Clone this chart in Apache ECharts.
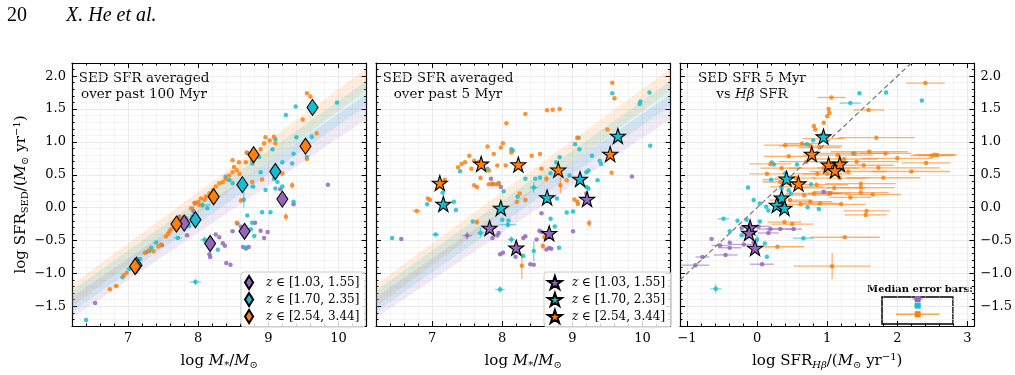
<!DOCTYPE html>
<html>
<head>
<meta charset="utf-8">
<script src="https://cdn.jsdelivr.net/npm/echarts@6/dist/echarts.min.js"></script>
<style>html,body{margin:0;padding:0;background:#fff}#main{width:1015px;height:375px}</style>
</head>
<body>
<div id="main"></div>
<script>
// ---- values ----
var binLabels = ['[1.03, 1.55]', '[1.70, 2.35]', '[2.54, 3.44]'];
var binColors = ['#9467bd', '#17becf', '#ff7f0e'];

// main-sequence bands: value at logM = bandX[0] and bandX[1]
var bandX = [6.2, 10.4];
var bandPurpleLo = [-1.68, 1.35], bandPurpleHi = [-1.36, 1.72];
var bandCyanLo = [-1.58, 1.55], bandCyanHi = [-1.26, 1.93];
var bandOrangeLo = [-1.50, 1.78], bandOrangeHi = [-1.17, 2.12];

// median points per bin
var p1MedPurple = [[7.80,-0.235],[8.17,-0.545],[8.66,-0.36],[9.20,0.13]];
var p1MedCyan = [[7.12,-0.875],[7.96,-0.185],[8.63,0.35],[9.10,0.55],[9.63,1.525]];
var p1MedOrange = [[7.10,-0.895],[7.69,-0.25],[8.22,0.165],[8.79,0.805],[9.53,0.935]];
var p2MedPurple = [[7.82,-0.31],[8.20,-0.61],[8.67,-0.39],[9.21,0.13]];
var p2MedCyan = [[7.16,0.055],[7.98,-0.005],[8.64,0.155],[9.11,0.435],[9.65,1.09]];
var p2MedOrange = [[7.11,0.375],[7.70,0.665],[8.23,0.655],[8.80,0.575],[9.54,0.815]];
var p3MedPurple = [[-0.10,-0.30],[-0.115,-0.385],[-0.03,-0.615]];
var p3MedCyan = [[0.947,1.08],[0.42,0.44],[0.35,0.15],[0.28,0.04],[0.39,-0.005]];
var p3MedOrange = [[0.78,0.815],[1.02,0.65],[1.18,0.665],[1.11,0.565],[0.59,0.365]];

// individual galaxies: [x, y, xerr, yerr]
var p1Purple = [[6.53,-1.45,0,0],[7.48,-0.57,0,0],[7.73,-0.14,0,0],[7.84,-0.42,0,0],[7.93,-0.05,0,0.07],[7.95,0.07,0,0],[8.16,-0.71,0,0],[8.17,-0.75,0,0],[8.25,-0.41,0,0],[8.30,-0.45,0,0],[8.35,-0.54,0,0],[8.38,-0.58,0,0],[8.40,-0.84,0,0],[8.46,-0.87,0,0],[8.49,-0.36,0,0],[8.56,-0.24,0,0],[8.61,-0.29,0,0],[8.64,-0.60,0,0],[8.68,-0.62,0,0],[8.72,-0.60,0,0],[8.81,-0.23,0,0],[8.89,-0.35,0,0],[8.94,-0.46,0,0],[8.99,-0.37,0,0],[9.17,0.28,0,0],[9.36,0.05,0,0],[9.85,0.35,0,0]];
var p1Cyan = [[6.40,-1.71,0,0],[6.92,-1.06,0,0],[7.02,-0.93,0.05,0],[7.17,-0.78,0,0],[7.26,-0.68,0,0],[7.30,-0.66,0,0],[7.33,-0.61,0,0],[7.40,-0.53,0,0],[7.71,-0.46,0.06,0.03],[7.83,-0.16,0,0],[7.87,-0.28,0,0],[7.92,-0.13,0,0],[7.96,-1.13,0.08,0.05],[8.06,0.04,0.12,0.05],[8.09,-0.49,0.06,0.05],[8.13,-0.01,0,0],[8.28,-0.64,0,0],[8.39,0.47,0,0],[8.44,0.42,0.05,0],[8.49,0.37,0,0],[8.65,0.12,0,0.12],[8.68,-0.61,0,0],[8.70,-0.12,0,0],[8.70,0.83,0,0],[8.75,-0.33,0,0],[8.77,-0.23,0,0],[8.77,0.67,0,0],[8.78,0.32,0.04,0],[8.80,-0.43,0,0],[8.87,0.77,0,0],[8.89,0.54,0,0],[8.91,-0.07,0,0],[8.96,0.27,0,0],[9.03,-0.07,0,0],[9.06,0.89,0,0],[9.08,0.44,0,0],[9.10,0.29,0,0],[9.10,1.04,0,0],[9.13,0.39,0,0],[9.20,0.69,0,0],[9.20,0.32,0,0],[9.25,1.41,0,0],[9.34,0.67,0,0],[9.36,0.82,0,0],[9.36,0.09,0,0],[9.39,1.54,0,0],[9.40,1.07,0,0],[9.55,0.77,0,0],[9.62,1.08,0,0],[9.98,1.60,0,0]];
var p1Orange = [[6.74,-1.24,0,0],[6.83,-1.19,0.04,0.03],[6.94,-1.03,0,0],[6.98,-0.99,0,0],[7.24,-0.69,0,0],[7.30,-0.65,0,0],[7.36,-0.66,0,0],[7.43,-0.59,0,0],[7.47,-0.56,0,0],[7.54,-0.44,0,0],[7.57,-0.40,0,0],[7.59,-0.36,0,0],[7.61,-0.33,0,0],[7.66,-0.29,0,0],[7.73,-0.19,0,0],[7.76,-0.16,0,0],[7.80,-0.14,0,0],[7.90,-0.01,0,0],[7.95,0.07,0,0],[8.00,0.09,0,0],[8.02,0.04,0,0],[8.04,0.14,0,0],[8.09,0.12,0,0],[8.11,0.17,0,0],[8.16,0.22,0,0],[8.21,0.27,0,0],[8.25,0.32,0,0],[8.30,0.37,0,0],[8.35,0.39,0,0],[8.39,0.44,0,0],[8.44,0.49,0,0],[8.49,0.72,0,0],[8.49,0.54,0,0],[8.51,0.62,0,0],[8.55,0.57,0,0],[8.55,-0.23,0,0],[8.58,0.69,0,0],[8.59,0.51,0,0],[8.61,0.11,0,0],[8.68,0.69,0,0],[8.69,0.84,0,0],[8.77,0.72,0,0],[8.77,0.39,0,0],[8.89,0.89,0,0],[8.91,0.43,0,0],[8.94,0.98,0,0],[8.96,1.07,0,0],[9.02,1.02,0,0],[9.08,1.08,0,0],[9.10,0.98,0,0],[9.20,0.52,0,0],[9.25,-0.14,0,0.06],[9.34,0.34,0,0.05],[9.49,1.34,0,0],[9.55,1.74,0,0],[9.60,1.69,0,0],[9.55,0.74,0,0],[9.69,1.13,0,0]];

var p2Purple = [[6.56,-0.475,0,0],[7.50,-0.425,0.07,0.06],[7.84,0.44,0,0],[7.86,0.365,0,0],[7.86,-0.46,0,0],[7.93,-0.425,0,0],[7.95,-0.385,0,0],[7.97,-0.71,0,0],[7.98,0.315,0,0],[8.01,-0.685,0,0],[8.19,-0.745,0,0],[8.30,-0.46,0,0],[8.33,-0.435,0,0],[8.40,-0.86,0,0],[8.45,-0.87,0,0],[8.49,-0.485,0,0],[8.53,-0.35,0,0],[8.56,-0.37,0,0],[8.56,-0.085,0,0],[8.63,-0.635,0,0],[8.67,-0.615,0,0],[8.70,-0.625,0,0],[9.01,-0.36,0,0],[9.20,0.215,0,0],[9.23,0.09,0,0],[9.85,0.475,0,0]];
var p2Cyan = [[6.43,-0.46,0,0],[6.93,0.05,0,0],[7.05,-0.41,0.05,0],[7.15,0.225,0,0],[7.31,0.09,0,0],[7.34,-0.035,0,0],[7.40,0.555,0,0],[7.58,-0.21,0,0],[7.69,-0.385,0.05,0.07],[7.79,0.59,0,0],[7.95,0.375,0,0],[7.97,-1.245,0.07,0.05],[8.00,-0.185,0,0],[8.02,0.25,0,0],[8.08,-0.26,0.12,0.04],[8.09,-0.195,0,0],[8.13,-0.485,0.05,0.05],[8.13,0.89,0,0],[8.15,0.87,0,0],[8.22,0.165,0,0],[8.30,-0.735,0,0],[8.33,0.44,0,0],[8.45,0.305,0.06,0.08],[8.45,-0.66,0,0.15],[8.47,0.44,0,0],[8.54,0.455,0,0],[8.69,0.525,0,0],[8.69,-0.17,0,0],[8.75,-0.285,0,0],[8.77,0.69,0,0],[8.78,0.14,0,0],[8.81,-0.61,0,0],[8.82,0.765,0,0],[8.92,-0.075,0,0],[8.96,0.49,0,0],[9.01,-0.06,0,0],[9.04,0.965,0,0],[9.09,1.065,0,0],[9.10,0.89,0,0],[9.20,0.315,0,0],[9.20,0.54,0,0],[9.23,0.29,0,0],[9.23,0.565,0,0],[9.28,0.79,0,0],[9.36,0.415,0,0],[9.39,0.715,0,0],[9.41,0.665,0,0],[9.57,1.74,0,0],[9.96,1.575,0,0],[9.97,1.615,0,0],[10.10,1.75,0,0],[10.11,0.94,0,0]];
var p2Orange = [[6.78,-0.05,0.06,0],[6.94,0.14,0,0],[6.97,0.115,0,0],[7.18,0.425,0,0],[7.37,0.615,0,0],[7.42,0.665,0,0],[7.47,0.69,0,0],[7.53,0.79,0,0],[7.56,0.59,0,0],[7.60,0.715,0,0],[7.60,0.34,0,0],[7.64,0.315,0,0],[7.64,-0.22,0,0.04],[7.66,0.69,0,0],[7.69,0.45,0,0],[7.79,0.93,0,0],[7.81,0.565,0,0],[7.81,0.355,0.03,0],[7.86,0.355,0.03,0],[7.88,0.815,0,0],[7.91,0.355,0.03,0],[7.93,0.64,0,0],[7.95,0.355,0.03,0],[7.98,0.915,0,0],[8.01,0.98,0,0],[8.05,0.64,0,0],[8.06,1.285,0,0],[8.13,0.84,0,0],[8.21,0.09,0,0],[8.25,0.215,0,0],[8.28,-0.885,0,0.2],[8.33,0.115,0,0],[8.33,1.425,0,0],[8.42,0.79,0,0],[8.54,0.815,0,0],[8.56,0.59,0,0],[8.58,-0.585,0,0.05],[8.60,-0.445,0,0.05],[8.63,0.44,0,0.05],[8.64,1.48,0,0],[8.72,1.49,0,0],[8.82,1.50,0,0],[8.83,0.34,0,0.12],[8.92,0.415,0,0],[9.03,0.125,0,0],[9.07,0.09,0,0],[9.07,1.065,0,0],[9.08,0.055,0,0],[9.24,-0.235,0,0.06],[9.50,1.19,0,0],[9.56,0.53,0,0],[9.57,1.90,0,0],[9.60,1.665,0,0]];

var p3Purple = [[-0.88,-0.875,0.2,0],[-0.78,-0.75,0.1,0],[-0.65,-0.475,0,0],[-0.53,-0.575,0.12,0],[-0.45,-0.72,0.17,0],[-0.39,-0.61,0.17,0],[-0.39,-0.535,0,0],[-0.22,-0.31,0,0],[-0.19,-0.56,0.19,0],[-0.05,-0.525,0,0],[0.02,-0.285,0.17,0],[0.07,-0.86,0.17,0],[0.16,-0.385,0.15,0],[0.19,-0.325,0.2,0],[0.33,-0.325,0.2,0],[0.52,-0.325,0.12,0],[0.95,0.24,0.14,0],[1.04,0.215,0.12,0]];
var p3Cyan = [[-0.59,-1.235,0.08,0.07],[-0.48,-0.17,0.08,0],[-0.39,-0.36,0,0],[-0.28,-0.2,0,0],[-0.22,-0.42,0,0],[-0.15,-0.185,0,0],[-0.14,-0.445,0,0],[-0.13,0.305,0,0],[-0.05,0.115,0,0],[0.0,-0.485,0,0.07],[0.04,0.065,0,0],[0.04,-0.21,0,0],[0.11,-0.545,0,0],[0.13,0.015,0,0],[0.14,-0.745,0,0],[0.16,-0.045,0,0],[0.20,0.425,0.12,0],[0.21,0.685,0,0],[0.24,0.655,0,0],[0.35,0.29,0,0],[0.40,0.525,0,0],[0.45,0.265,0,0],[0.48,0.215,0,0],[0.57,0.655,0,0],[0.66,-0.465,0.15,0],[0.71,0.965,0.05,0],[0.72,0.005,0,0],[0.77,0.355,0,0],[0.80,1.025,0,0],[0.81,0.765,0,0],[0.88,-0.02,0,0],[0.92,1.105,0,0],[1.33,1.59,0.15,0],[1.37,0.825,0,0],[1.46,1.74,0,0],[1.84,1.75,0,0],[2.35,1.63,0,0]];
var p3Orange = [[0.14,0.515,0.25,0],[0.19,0.665,0.3,0],[0.29,-0.595,0.38,0],[0.33,0.39,0.25,0],[0.35,0.60,0.3,0],[0.39,-0.22,0.24,0],[0.40,0.95,0.3,0],[0.45,0.78,0.35,0],[0.47,0.115,0.3,0],[0.50,-0.25,0.3,0],[0.55,0.45,0.3,0],[0.57,0.315,0.38,0],[0.62,0.05,0.3,0],[0.64,0.975,0.25,0],[0.67,0.19,0.36,0],[0.70,0.70,0.4,0],[0.76,0.94,0.45,0],[0.76,0.09,0.31,0],[0.81,1.24,0,0],[0.81,0.215,0.4,0],[0.83,1.19,0,0],[0.85,0.35,0.45,0],[0.86,0.515,0.35,0],[0.89,0.915,0.3,0],[0.90,0.065,0.3,0],[0.95,1.29,0,0],[0.95,0.60,0.5,0],[0.95,1.05,0.3,0],[1.0,1.39,0,0],[1.0,0.515,0.35,0],[1.02,1.50,0,0],[1.03,1.44,0,0],[1.03,0.215,0.3,0],[1.06,1.675,0.2,0],[1.07,-0.89,0.55,0.2],[1.10,0.30,0.45,0],[1.15,0.80,0.5,0],[1.18,0.45,0.4,0],[1.20,0.05,0.35,0],[1.24,0.74,0.48,0],[1.25,-0.45,0.5,0],[1.30,0.55,0.55,0],[1.33,0.155,0.3,0],[1.39,0.825,0.5,0],[1.42,0.70,0.6,0],[1.48,0.365,0.5,0],[1.48,0.305,0.48,0],[1.48,0.23,0.4,0],[1.52,0.645,0.43,0],[1.55,-0.11,0.3,0],[1.56,-0.05,0.33,0],[1.59,1.485,0.22,0],[1.60,0.85,0.55,0],[1.65,0.20,0.4,0],[1.70,1.065,0.55,0],[1.73,0.605,0.87,0],[1.80,0.455,0.53,0],[1.83,0.825,0.37,0],[2.0,0.75,0.5,0],[2.2,0.55,0.55,0],[2.40,1.895,0.275,0],[2.41,0.68,0.35,0],[2.49,0.79,0.3,0],[2.53,0.805,0.3,0],[2.57,0.80,0.28,0]];

// 1:1 line and median error bars of panel 3
var oneToOne = [-1.1, 2.2];
var medErrX = 2.29;
var medErrY = [-1.39, -1.49, -1.62];
var medErrSize = [0.07, 0.05, 0.31];

// ---- chart ----
var FONT = 'DejaVu Serif';
var DIAMOND = 'path://M5,0L10,8L5,16L0,8Z';
var STAR = 'path://M50,0L61.8,35.1L98.9,35.1L68.9,56.7L80.3,91.9L50,70.2L19.7,91.9L31.1,56.7L1.1,35.1L38.2,35.1Z';
var gridLefts = [72, 376, 680];
var xRanges = [[6.2, 10.4], [6.2, 10.4], [-1.1, 3.1]];

function fmt(v, d) {
	return v.toFixed(d).replace('-', '\u2212');
}

var nameRich = {
	i: { fontFamily: FONT, fontSize: 15, fontStyle: 'italic' },
	sub: { fontFamily: FONT, fontSize: 10, padding: [8, 0, 0, 0] },
	subi: { fontFamily: FONT, fontSize: 10, fontStyle: 'italic', padding: [8, 0, 0, 0] },
	sup: { fontFamily: FONT, fontSize: 10, padding: [0, 0, 8, 0] }
};
var nameStyle = { fontFamily: FONT, fontSize: 15, color: '#000', rich: nameRich };
var tickStyle = { color: '#000', width: 1 };

// an axis that only draws ticks (and optionally grid lines)
function tickAxis(g, min, max, split, pos, len, grid, line) {
	return {
		type: 'value', gridIndex: g, min: min, max: max, splitNumber: split, position: pos,
		axisLine: { show: line, onZero: false, lineStyle: { color: '#000', width: 1.2 } },
		axisTick: { inside: true, length: len, lineStyle: tickStyle },
		axisLabel: { show: false },
		splitLine: { show: grid, lineStyle: { color: len > 3 ? '#cfcfcf' : '#e6e6e6', type: 'dotted', width: 0.8 } }
	};
}

var xAxes = [], yAxes = [];
for (var g = 0; g < 3; g++) {
	var xmin = xRanges[g][0], xmax = xRanges[g][1];
	var xb = tickAxis(g, xmin, xmax, 4, 'bottom', 5, true, true);
	xb.axisLabel = { margin: 6, showMinLabel: false, showMaxLabel: false, fontFamily: FONT, fontSize: 13, color: '#000',
		formatter: function(v) { return fmt(v, 0); } };
	xb.name = g < 2 ? 'log {i|M}{sub|*}/{i|M}{sub|\u2299}' : 'log SFR{subi|H\u03b2}/({i|M}{sub|\u2299} yr{sup|\u22121})';
	xb.nameLocation = 'middle';
	xb.nameGap = 26;
	xb.nameTextStyle = nameStyle;
	xAxes.push(xb);
	xAxes.push(tickAxis(g, xmin, xmax, 4, 'top', 5, false, true));
	xAxes.push(tickAxis(g, xmin, xmax, 21, 'bottom', 2.5, true, false));
	xAxes.push(tickAxis(g, xmin, xmax, 21, 'top', 2.5, false, false));

	var yLab = { margin: 6, showMinLabel: false, showMaxLabel: false, fontFamily: FONT, fontSize: 13, color: '#000',
		formatter: function(v) { return fmt(v, 1); } };
	var yl = tickAxis(g, -1.8, 2.2, 8, 'left', 5, true, true);
	var yr = tickAxis(g, -1.8, 2.2, 8, 'right', 5, false, true);
	if (g == 0) {
		yl.axisLabel = yLab;
		yl.name = 'log SFR{sub|SED}/({i|M}{sub|\u2299} yr{sup|\u22121})';
		yl.nameLocation = 'middle';
		yl.nameGap = 33;
		yl.nameTextStyle = nameStyle;
	}
	if (g == 2) yr.axisLabel = yLab;
	yAxes.push(yl);
	yAxes.push(yr);
	yAxes.push(tickAxis(g, -1.8, 2.2, 40, 'left', 2.5, true, false));
	yAxes.push(tickAxis(g, -1.8, 2.2, 40, 'right', 2.5, false, false));
}

function bandSeries(g, lo, hi, color) {
	return {
		type: 'custom', xAxisIndex: g * 4, yAxisIndex: g * 4, z: 1, clip: true, silent: true,
		data: [[bandX[0], lo[0], hi[0], bandX[1], lo[1], hi[1]]],
		renderItem: function(params, api) {
			var a = api.coord([api.value(0), api.value(1)]);
			var b = api.coord([api.value(3), api.value(4)]);
			var c = api.coord([api.value(3), api.value(5)]);
			var d = api.coord([api.value(0), api.value(2)]);
			return { type: 'polygon', shape: { points: [a, b, c, d] }, style: { fill: color, opacity: 0.14 } };
		}
	};
}

function errSeries(g, data, color) {
	return {
		type: 'custom', xAxisIndex: g * 4, yAxisIndex: g * 4, z: 2, clip: true, silent: true,
		data: data.filter(function(p) { return p[2] > 0 || p[3] > 0; }),
		renderItem: function(params, api) {
			var x = api.value(0), y = api.value(1), ex = api.value(2), ey = api.value(3);
			var kids = [];
			var st = { stroke: color, lineWidth: 1.3, opacity: 0.6 };
			if (ex > 0) {
				var a = api.coord([x - ex, y]), b = api.coord([x + ex, y]);
				kids.push({ type: 'line', shape: { x1: a[0], y1: a[1], x2: b[0], y2: b[1] }, style: st });
			}
			if (ey > 0) {
				var c = api.coord([x, y - ey]), d = api.coord([x, y + ey]);
				kids.push({ type: 'line', shape: { x1: c[0], y1: c[1], x2: d[0], y2: d[1] }, style: st });
			}
			return { type: 'group', children: kids };
		}
	};
}

function dotSeries(g, data, color) {
	return {
		type: 'scatter', xAxisIndex: g * 4, yAxisIndex: g * 4, z: 3, silent: true,
		symbolSize: 4.5, data: data.map(function(p) { return [p[0], p[1]]; }),
		itemStyle: { color: color, opacity: 0.85 }
	};
}

function medSeries(g, data, k, symbol, size) {
	return {
		type: 'scatter', name: 'p' + g + '_' + k, xAxisIndex: g * 4, yAxisIndex: g * 4, z: 5, silent: true,
		symbol: symbol, symbolSize: size, symbolKeepAspect: false, data: data,
		itemStyle: { color: binColors[k], borderColor: '#000', borderWidth: 1.1, opacity: 1 }
	};
}

var series = [];
for (var g = 0; g < 2; g++) {
	series.push(bandSeries(g, bandOrangeLo, bandOrangeHi, binColors[2]));
	series.push(bandSeries(g, bandCyanLo, bandCyanHi, binColors[1]));
	series.push(bandSeries(g, bandPurpleLo, bandPurpleHi, binColors[0]));
}
var dots = [[p1Purple, p1Cyan, p1Orange], [p2Purple, p2Cyan, p2Orange], [p3Purple, p3Cyan, p3Orange]];
for (var g = 0; g < 3; g++) {
	for (var k = 0; k < 3; k++) {
		series.push(errSeries(g, dots[g][k], binColors[k]));
		series.push(dotSeries(g, dots[g][k], binColors[k]));
	}
}
series.push({
	type: 'line', xAxisIndex: 8, yAxisIndex: 8, z: 4, silent: true, symbol: 'none',
	data: oneToOne.map(function(v) { return [v, v]; }),
	lineStyle: { color: '#777', width: 1.2, type: [5, 3] }
});
var meds = [[p1MedPurple, p1MedCyan, p1MedOrange], [p2MedPurple, p2MedCyan, p2MedOrange], [p3MedPurple, p3MedCyan, p3MedOrange]];
for (var g = 0; g < 3; g++) {
	for (var k = 0; k < 3; k++) {
		series.push(medSeries(g, meds[g][k], k, g == 0 ? DIAMOND : STAR, g == 0 ? [11, 16] : 15));
	}
}
// median error bars (panel 3)
series.push({
	type: 'custom', xAxisIndex: 8, yAxisIndex: 8, z: 6, silent: true,
	data: medErrY.map(function(y, k) { return [medErrX, y, medErrSize[k], k]; }),
	renderItem: function(params, api) {
		var x = api.value(0), y = api.value(1), e = api.value(2), col = binColors[api.value(3)];
		var a = api.coord([x - e, y]), b = api.coord([x + e, y]), c = api.coord([x, y]);
		return { type: 'group', children: [
			{ type: 'line', shape: { x1: a[0], y1: a[1], x2: b[0], y2: b[1] }, style: { stroke: col, lineWidth: 1.5, opacity: 0.7 } },
			{ type: 'rect', shape: { x: c[0] - 3, y: c[1] - 3, width: 6, height: 6 }, style: { fill: col } }
		] };
	}
});

function legendFor(g, left, icon) {
	return {
		orient: 'vertical', left: left, top: 272, selectedMode: false,
		data: [0, 1, 2].map(function(k) { return { name: 'p' + g + '_' + k, icon: icon }; }),
		itemWidth: 24, itemHeight: 13, itemGap: 2, padding: [3, 6, 3, 3],
		backgroundColor: 'rgba(255,255,255,0.8)', borderColor: '#cccccc', borderWidth: 1, borderRadius: 3,
		formatter: function(name) { return '{i|z} \u2208 ' + binLabels[+name.slice(-1)]; },
		textStyle: { fontFamily: FONT, fontSize: 12, color: '#000', lineHeight: 14,
			rich: { i: { fontFamily: FONT, fontSize: 12, fontStyle: 'italic', lineHeight: 14 } } }
	};
}

var panelText = { fontFamily: FONT, fontSize: 13.5, fill: '#000', textAlign: 'center', lineHeight: 16 };
var option = {
	animation: false,
	backgroundColor: '#fff',
	grid: gridLefts.map(function(l) { return { left: l, top: 63, width: 294.5, height: 268 }; }),
	xAxis: xAxes,
	yAxis: yAxes,
	legend: [legendFor(0, 241, DIAMOND), legendFor(1, 544, STAR)],
	series: series,
	graphic: [
		{ type: 'text', left: 7, top: 6, style: { text: '20', font: '20px "Liberation Serif"', fill: '#000' } },
		{ type: 'text', left: 66, top: 6, style: { text: 'X. He et al.', font: 'italic 20px "Liberation Serif"', fill: '#000' } },
		{ type: 'text', x: 144, y: 70, style: Object.assign({ text: 'SED SFR averaged\nover past 100 Myr' }, panelText) },
		{ type: 'text', x: 448, y: 70, style: Object.assign({ text: 'SED SFR averaged\nover past 5 Myr' }, panelText) },
		{ type: 'text', x: 752, y: 70, style: Object.assign({ text: 'SED SFR 5 Myr\nvs {i|H\u03b2} SFR',
			rich: { i: { fontFamily: FONT, fontSize: 13.5, fontStyle: 'italic' } } }, panelText) },
		{ type: 'text', x: 920, y: 284, style: { text: 'Median error bars:', fontFamily: FONT, fontWeight: 'bold',
			fontSize: 10, fill: '#000', textAlign: 'center' } },
		{ type: 'rect', shape: { x: 882, y: 297, width: 71, height: 27 }, style: { fill: 'none', stroke: '#000', lineWidth: 1.5 } }
	]
};

var myChart = echarts.init(document.getElementById('main'), null, { renderer: 'canvas' });
myChart.setOption(option);
</script>
</body>
</html>
